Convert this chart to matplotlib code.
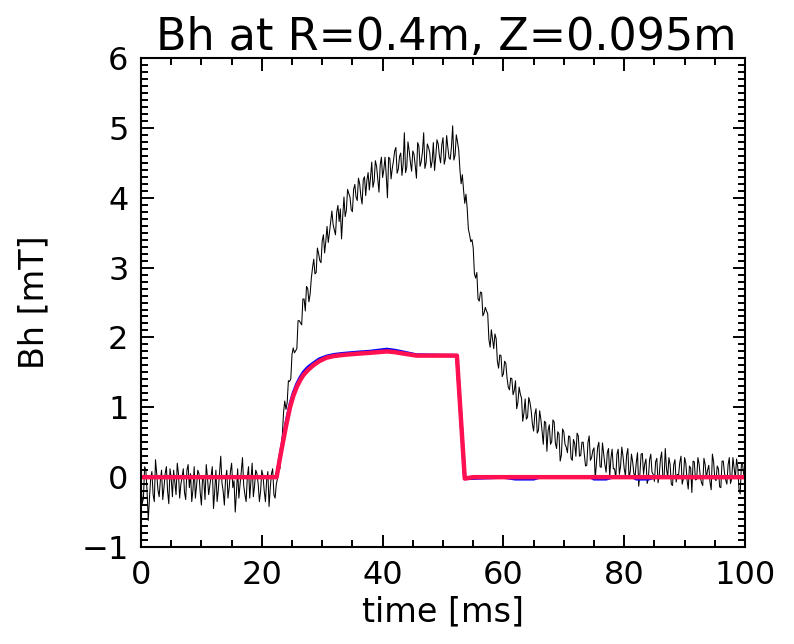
import numpy as np
import matplotlib
matplotlib.use('Agg')
import matplotlib.pyplot as plt
from matplotlib.ticker import MultipleLocator

# measured signal, 0.2 ms sampling from 0 to 100 ms
# even samples (t = 0, 0.4, 0.8, ...)
bh_pre = [-0.05, -0.3, 0.1, -0.62, -0.02, -0.25, 0.25, -0.18, -0.05, -0.32,
          0.05, -0.2, 0.12, -0.28, -0.08, 0.2, -0.3, 0.0, -0.22, 0.1,
          -0.15, -0.35, 0.15, -0.12, 0.05, -0.4, -0.05, 0.18, -0.25, 0.02,
          -0.45, 0.1, -0.18, 0.3, -0.2, -0.02, -0.3, 0.08, -0.15, -0.5,
          0.12, -0.1, 0.28, -0.25, 0.0, -0.3, 0.2, -0.12, 0.05, -0.35,
          0.1, -0.2, -0.05, -0.42, 0.05, -0.25, -0.1]
bh_rise = [0.18, 0.37, 0.93, 0.97, 1.38, 1.41, 1.85, 1.81, 2.24, 2.21,
           2.55, 2.38, 2.7, 2.62, 3.0, 2.91, 3.28, 3.1, 3.38, 3.21,
           3.59, 3.5, 3.81, 3.54, 3.79, 3.66, 3.41, 4.01, 3.82, 4.06,
           3.83, 4.12, 4.01, 4.28, 4.02, 4.26, 4.03, 4.36, 4.29, 4.15,
           4.53, 4.26, 4.47, 4.29, 4.58, 4.0, 4.56, 4.42, 4.67, 4.35,
           4.59, 4.32, 4.93, 4.44, 4.67, 4.38, 4.62, 4.28, 4.74, 4.52,
           4.93, 4.5, 4.72, 4.43, 4.79, 4.59, 4.77, 4.5, 4.86, 4.56,
           4.72, 4.55, 5.03, 4.61, 4.8]
bh_decay = [4.40, 4.33, 3.92, 3.85, 3.47, 3.4, 2.91, 2.93, 2.52, 2.64,
            2.35, 2.38, 1.97, 2.11, 1.84, 1.98, 1.56, 1.74, 1.48, 1.63,
            1.29, 1.42, 1.18, 1.38, 1.07, 1.19, 0.8, 1.12, 0.86, 1.07,
            0.76, 0.9, 0.63, 0.95, 0.66, 0.8, 0.37, 0.75, 0.51, 0.79,
            0.41, 0.62, 0.32, 0.65, 0.43, 0.59, 0.27, 0.54, 0.3, 0.59,
            0.31, 0.5, 0.16, 0.5, 0.24, 0.38, -0.03, 0.43, 0.15, 0.49,
            0.18, 0.35, 0.01, 0.4, 0.12, 0.33, 0.04, 0.43, 0.12, 0.32,
            -0.01, 0.33, 0.05, 0.21, -0.13, 0.33, 0.04, 0.26, -0.02, 0.33,
            0.04, 0.22, -0.08, 0.26, -0.01, 0.41, 0.0, 0.18, -0.12, 0.25,
            0.04, 0.21, -0.1, 0.28, -0.04, 0.16, -0.22, 0.22, -0.03, 0.19,
            -0.08, 0.27, -0.01, 0.17, -0.18, 0.22, -0.05, 0.12, -0.15, 0.23,
            -0.04, 0.18, -0.09, 0.28, -0.02, 0.15, -0.24, 0.18, -0.04]

# odd samples (t = 0.2, 0.6, 1.0, ...)
bh_pre_mid = [-0.38, 0.15, -0.2, -0.3, 0.08, -0.35, 0.05, -0.28, 0.1, -0.15,
              0.15, -0.38, -0.02, 0.1, -0.25, 0.05, -0.1, 0.12, -0.32, 0.18,
              0.05, -0.18, -0.3, 0.1, -0.22, 0.02, -0.32, 0.0, -0.12, 0.15,
              -0.2, -0.35, 0.05, -0.08, -0.4, 0.1, -0.15, 0.2, -0.05, -0.22,
              -0.3, 0.08, -0.12, -0.35, 0.15, -0.05, -0.28, 0.1, -0.1, -0.2,
              0.02, -0.35, 0.08, -0.15, 0.12, -0.3, -0.02]
bh_rise_mid = [0.12, 0.61, 1.09, 1.07, 1.37, 1.76, 1.78, 1.84, 2.24, 2.18,
               2.55, 2.73, 2.51, 2.85, 3.12, 2.93, 3.2, 3.07, 3.47, 3.38,
               3.36, 3.66, 3.62, 3.47, 3.89, 3.84, 3.74, 3.73, 4.12, 4.01,
               3.8, 4.19, 3.96, 4.2, 3.91, 4.3, 4.25, 4.11, 4.51, 4.24,
               4.45, 4.08, 4.58, 4.4, 4.32, 4.58, 4.27, 4.53, 4.72, 4.41,
               4.64, 4.48, 4.36, 4.8, 4.51, 4.67, 4.46, 4.79, 4.45, 4.66,
               4.42, 4.77, 4.65, 4.52, 4.39, 4.83, 4.6, 4.76, 4.48, 4.89,
               4.57, 4.73, 4.54, 4.9, 4.68]
bh_decay_mid = [4.2, 4.11, 4.05, 3.55, 3.37, 3.28, 2.85, 2.55, 2.65, 2.31,
                2.43, 2.34, 1.86, 1.98, 2.05, 1.66, 1.75, 1.44, 1.66, 1.42,
                1.25, 1.41, 1.24, 0.98, 1.29, 1.13, 0.92, 0.83, 1.14, 0.95,
                0.66, 0.98, 0.67, 0.83, 0.47, 0.78, 0.67, 0.47, 0.82, 0.49,
                0.65, 0.23, 0.69, 0.47, 0.35, 0.58, 0.24, 0.48, 0.63, 0.3,
                0.5, 0.32, 0.17, 0.59, 0.28, 0.42, 0.19, 0.5, 0.14, 0.33,
                0.07, 0.41, 0.27, 0.12, -0.02, 0.4, 0.16, 0.3, 0.02, 0.41,
                0.08, 0.22, 0.01, 0.35, 0.05, 0.34, 0.19, -0.09, 0.25, 0.07,
                -0.06, 0.27, 0.03, 0.36, -0.01, 0.12, 0.28, -0.1, 0.18, -0.07,
                0.03, 0.3, -0.02, 0.2, -0.17, 0.13, 0.23, -0.04, 0.28, 0.0,
                -0.12, 0.18, 0.1, -0.07, 0.33, -0.02, 0.16, -0.14, 0.23, 0.06,
                -0.1, 0.28, -0.02, 0.13, 0.26, -0.17, 0.18, 0.03]

bh_even = bh_pre + bh_rise + bh_decay
bh_odd = bh_pre_mid + bh_rise_mid + bh_decay_mid
bh_meas = np.empty(len(bh_even) + len(bh_odd))
bh_meas[0::2] = bh_even
bh_meas[1::2] = bh_odd
t_meas = np.linspace(0, 100, len(bh_meas))

# model curves (blue = fit 1, red = fit 2)
t_red = [0, 22.45, 23.0, 23.56, 24.1, 24.67, 25.2, 25.78, 26.3, 26.87, 27.6,
         28.5, 29.5, 30.7, 32.0, 33.5, 35.5, 37.9, 40.7, 42.0, 43.4, 45.6,
         52.3, 53.6, 55.0, 100]
bh_red = [0, 0, 0.27, 0.53, 0.77, 1.0, 1.16, 1.29, 1.38, 1.46, 1.53,
          1.6, 1.66, 1.71, 1.735, 1.75, 1.765, 1.78, 1.8, 1.79, 1.77, 1.74,
          1.74, -0.02, 0.0, 0.0]

t_blue = [0, 22.45, 23.0, 23.56, 24.1, 24.67, 25.2, 25.78, 26.3, 26.87, 27.6,
          28.5, 29.5, 30.7, 32.0, 33.5, 35.5, 37.9, 40.7, 42.0, 43.4, 45.6,
          52.3, 53.6, 60.0, 62.0, 65.0, 66.0, 74.5, 75.0, 77.0, 78.0,
          81.5, 82.0, 84.0, 85.0, 100]
bh_blue = [0, 0, 0.29, 0.56, 0.81, 1.04, 1.2, 1.33, 1.42, 1.5, 1.57,
           1.63, 1.69, 1.73, 1.755, 1.77, 1.785, 1.8, 1.83, 1.815, 1.79, 1.75,
           1.74, -0.02, 0.0, -0.025, -0.025, 0.0, 0.0, -0.025, -0.025, 0.0,
           0.0, -0.025, -0.025, 0.0, 0.0]

plt.rcParams['font.family'] = ['DejaVu Sans']

fig = plt.figure(figsize=(7.94, 6.44), dpi=100)
ax = fig.add_axes([0.1776, 0.1506, 0.7607, 0.7593])

ax.plot(t_meas, bh_meas, color='black', linewidth=0.75)
ax.plot(t_blue, bh_blue, color='#0000ff', linewidth=2.4, solid_joinstyle='round')
ax.plot(t_red, bh_red, color='#ff1050', linewidth=3.2, solid_joinstyle='round')

ax.set_xlim(0, 100)
ax.set_ylim(-1, 6)
ax.xaxis.set_major_locator(MultipleLocator(20))
ax.xaxis.set_minor_locator(MultipleLocator(5))
ax.yaxis.set_major_locator(MultipleLocator(1))
ax.yaxis.set_minor_locator(MultipleLocator(0.1))
ax.tick_params(which='both', direction='in', top=True, right=True,
               labelsize=23, width=1.4, pad=9)
ax.tick_params(which='major', length=9)
ax.tick_params(which='minor', length=5)
for s in ax.spines.values():
    s.set_linewidth(1.5)

ax.set_xlabel('time [ms]', fontsize=24)
ax.set_ylabel('Bh [mT]', fontsize=24)
ax.xaxis.set_label_coords(0.5, -0.098)
ax.yaxis.set_label_coords(-0.15, 0.5)
ax.text(0.505, 1.016, 'Bh at R=0.4m, Z=0.095m', transform=ax.transAxes,
        ha='center', va='baseline', fontsize=32)

fig.savefig('out.png', dpi=100)
